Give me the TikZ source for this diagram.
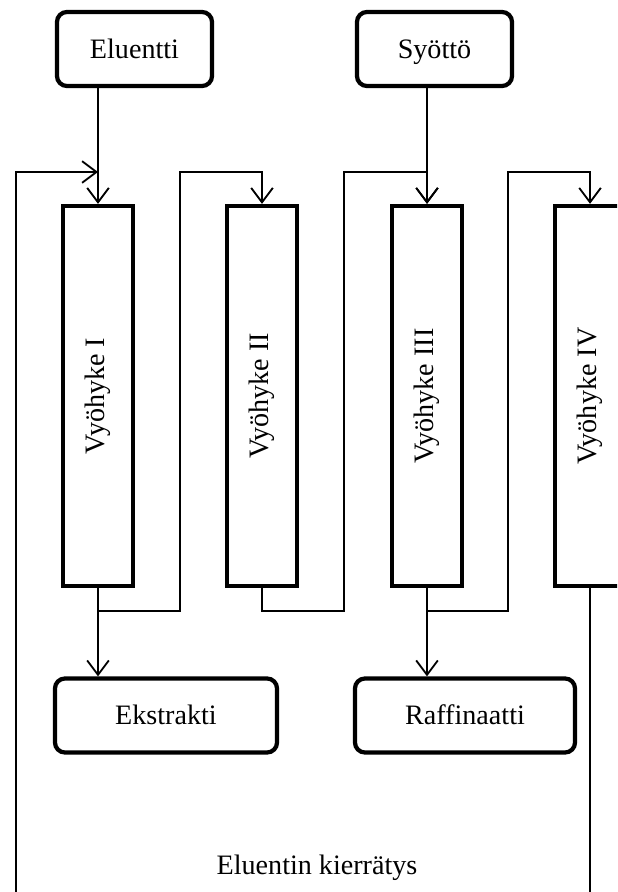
\documentclass[tikz,border=0pt]{standalone}
\usepackage{fontspec}
\setmainfont{Liberation Serif}
\usepackage{tikz}
\usetikzlibrary{arrows.meta}

\begin{document}
\begin{tikzpicture}[
  x=0.025cm, y=-0.025cm,
  stream/.style={draw, line width=3pt, rounded corners=0.25cm, minimum height=1.85cm, text height=14pt, text depth=1pt, font=\fontsize{20}{24}\selectfont},
  zone/.style={draw, line width=3pt, minimum width=1.75cm, minimum height=9.5cm, font=\fontsize{20}{24}\selectfont},
  flow/.style={line width=1.3pt, -{Straight Barb[length=3.6mm, width=5.4mm]}},
  pipe/.style={line width=1.3pt}
]
\clip (0,0) rectangle (617,892);

\node[stream, minimum width=3.875cm] (Eluentti) at (134.5, 49) {Eluentti};
\node[stream, minimum width=3.875cm] (Syotto) at (434.5, 49) {Syöttö};

\node[zone] (Z1) at (98, 396) {\rotatebox{90}{Vyöhyke I}};
\node[zone] (Z2) at (262, 396) {\rotatebox{90}{Vyöhyke II}};
\node[zone] (Z3) at (427, 396) {\rotatebox{90}{Vyöhyke III}};
\node[zone] (Z4) at (590, 396) {\rotatebox{90}{Vyöhyke IV}};

\node[stream, minimum width=5.55cm] (Ekstrakti) at (166, 715.5) {Ekstrakti};
\node[stream, minimum width=5.5cm] (Raffinaatti) at (465, 715.5) {Raffinaatti};

\node[font=\fontsize{20}{24}\selectfont] (kierto) at (317, 868) {Eluentin kierrätys};

\coordinate (recL) at (16, 900);
\coordinate (recR) at (590, 900);

% syotot ylhaalta
\draw[flow] (Z1 |- Eluentti.south) -- (Z1.north);
\draw[flow] (Z3 |- Syotto.south) -- (Z3.north);

% eluentin kierratys
\draw[flow] (recL) |- (Z1 |- 0,172);
\draw[pipe] (Z4.south) -- (recR);

% vyohykkeelta seuraavalle
\foreach \a/\b/\c in {Z1/Z2/180, Z2/Z3/344, Z3/Z4/508} {
  \draw[flow] (\a.south) |- (\c, 611) -- (\c, 172) -| (\b.north);
}

% tuotteet
\draw[flow] (Z1.south) -- (Z1 |- Ekstrakti.north);
\draw[flow] (Z3.south) -- (Z3 |- Raffinaatti.north);

\end{tikzpicture}
\end{document}
